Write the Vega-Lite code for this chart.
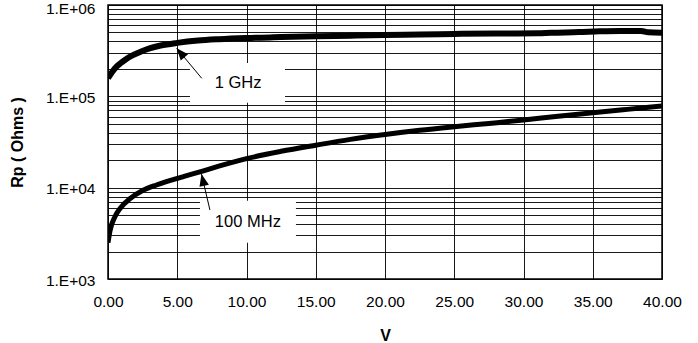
{
  "$schema": "https://vega.github.io/schema/vega-lite/v6.json",
  "width": 554,
  "height": 274,
  "autosize": {"type": "none"},
  "padding": {"left": 108, "top": 5, "right": 36, "bottom": 64},
  "config": {
    "font": "Liberation Sans",
    "view": {"stroke": "#000", "strokeWidth": 1.5},
    "axis": {
      "domain": false,
      "ticks": false,
      "tickSize": 0,
      "gridColor": "#000",
      "gridWidth": 1,
      "gridOpacity": 0.9,
      "labelColor": "#000",
      "labelFont": "Liberation Sans",
      "labelFontSize": 15.5,
      "titleFont": "Liberation Sans",
      "titleFontSize": 16,
      "titleFontWeight": "bold",
      "titleColor": "#000"
    }
  },
  "datasets": {
    "curves": [
      {"series": "1 GHz", "V": 0, "Rp": 158000},
      {"series": "1 GHz", "V": 0.3, "Rp": 185000},
      {"series": "1 GHz", "V": 0.6, "Rp": 210000},
      {"series": "1 GHz", "V": 0.9, "Rp": 230000},
      {"series": "1 GHz", "V": 1.3, "Rp": 255000},
      {"series": "1 GHz", "V": 1.8, "Rp": 282000},
      {"series": "1 GHz", "V": 2.4, "Rp": 310000},
      {"series": "1 GHz", "V": 3.0, "Rp": 335000},
      {"series": "1 GHz", "V": 3.8, "Rp": 360000},
      {"series": "1 GHz", "V": 5, "Rp": 385000},
      {"series": "1 GHz", "V": 6.5, "Rp": 408000},
      {"series": "1 GHz", "V": 8, "Rp": 422000},
      {"series": "1 GHz", "V": 10, "Rp": 435000},
      {"series": "1 GHz", "V": 12.5, "Rp": 445000},
      {"series": "1 GHz", "V": 15, "Rp": 455000},
      {"series": "1 GHz", "V": 17.5, "Rp": 462000},
      {"series": "1 GHz", "V": 20, "Rp": 470000},
      {"series": "1 GHz", "V": 22.5, "Rp": 476000},
      {"series": "1 GHz", "V": 25, "Rp": 482000},
      {"series": "1 GHz", "V": 28, "Rp": 488000},
      {"series": "1 GHz", "V": 31, "Rp": 490000},
      {"series": "1 GHz", "V": 32, "Rp": 497000},
      {"series": "1 GHz", "V": 34, "Rp": 505000},
      {"series": "1 GHz", "V": 35.5, "Rp": 515000},
      {"series": "1 GHz", "V": 37, "Rp": 520000},
      {"series": "1 GHz", "V": 38.5, "Rp": 520000},
      {"series": "1 GHz", "V": 39, "Rp": 502000},
      {"series": "1 GHz", "V": 40, "Rp": 498000},
      {"series": "100 MHz", "V": 0, "Rp": 2500},
      {"series": "100 MHz", "V": 0.15, "Rp": 3400},
      {"series": "100 MHz", "V": 0.5, "Rp": 4800},
      {"series": "100 MHz", "V": 0.9, "Rp": 6000},
      {"series": "100 MHz", "V": 1.6, "Rp": 7600},
      {"series": "100 MHz", "V": 2.5, "Rp": 9300},
      {"series": "100 MHz", "V": 3.5, "Rp": 10700},
      {"series": "100 MHz", "V": 4.5, "Rp": 12000},
      {"series": "100 MHz", "V": 5.5, "Rp": 13300},
      {"series": "100 MHz", "V": 6.7, "Rp": 15000},
      {"series": "100 MHz", "V": 8, "Rp": 17200},
      {"series": "100 MHz", "V": 10, "Rp": 20800},
      {"series": "100 MHz", "V": 12.5, "Rp": 25000},
      {"series": "100 MHz", "V": 15, "Rp": 29200},
      {"series": "100 MHz", "V": 17.5, "Rp": 33800},
      {"series": "100 MHz", "V": 20, "Rp": 38200},
      {"series": "100 MHz", "V": 22.5, "Rp": 42500},
      {"series": "100 MHz", "V": 25, "Rp": 46500},
      {"series": "100 MHz", "V": 27.5, "Rp": 50500},
      {"series": "100 MHz", "V": 30, "Rp": 55000},
      {"series": "100 MHz", "V": 32.5, "Rp": 60500},
      {"series": "100 MHz", "V": 35, "Rp": 66000},
      {"series": "100 MHz", "V": 37.5, "Rp": 72000},
      {"series": "100 MHz", "V": 40, "Rp": 78500}
    ],
    "notes": [
      {"label": "1 GHz", "tx": 9.39, "ty": 140000, "tailV": 6.77, "tailR": 157500, "tipV": 4.96, "tipR": 336000, "boxV1": 5.92, "boxV2": 12.78, "boxR1": 232000, "boxR2": 85000},
      {"label": "100 MHz", "tx": 10.1, "ty": 4200, "tailV": 7.36, "tailR": 5690, "tipV": 6.75, "tipR": 14100, "boxV1": 6.64, "boxV2": 13.57, "boxR1": 7200, "boxR2": 2500}
    ]
  },
  "layer": [
    {
      "data": {"name": "notes"},
      "mark": {"type": "rect", "fill": "#fff", "stroke": null},
      "encoding": {
        "x": {"field": "boxV1", "type": "quantitative",
          "scale": {"domain": [0, 40], "nice": false, "zero": false},
          "axis": {"title": "V", "values": [0, 5, 10, 15, 20, 25, 30, 35, 40], "format": ".2f", "labelPadding": 15, "labelFlush": false, "titleY": 56, "titleBaseline": "middle"}},
        "x2": {"field": "boxV2"},
        "y": {"field": "boxR1", "type": "quantitative",
          "scale": {"type": "log", "domain": [1000, 1000000], "nice": false},
          "axis": {"title": "Rp ( Ohms )", "values": [1000, 2000, 3000, 4000, 5000, 6000, 7000, 8000, 9000, 10000, 20000, 30000, 40000, 50000, 60000, 70000, 80000, 90000, 100000, 200000, 300000, 400000, 500000, 600000, 700000, 800000, 900000, 1000000],
            "labelExpr": "abs(log(datum.value)/LN10 - round(log(datum.value)/LN10)) < 0.001 ? '1.E+0' + round(log(datum.value)/LN10) : ''",
            "labelOverlap": false, "labelPadding": 13, "labelBaseline": "middle",
            "labelOffset": {"condition": {"test": "datum.value >= 999999", "value": 3.5}, "value": 1},
            "titleX": -91, "titleY": 137, "titleAngle": -90, "titleBaseline": "middle", "titleAlign": "center"}},
        "y2": {"field": "boxR2"}
      }
    },
    {
      "data": {"name": "curves"},
      "transform": [{"filter": "datum.series === '1 GHz'"}],
      "mark": {"type": "line", "color": "#000", "strokeWidth": 6, "interpolate": "monotone", "clip": true},
      "encoding": {
        "x": {"field": "V", "type": "quantitative"},
        "y": {"field": "Rp", "type": "quantitative"}
      }
    },
    {
      "data": {"name": "curves"},
      "transform": [{"filter": "datum.series === '100 MHz'"}],
      "mark": {"type": "line", "color": "#000", "strokeWidth": 5, "interpolate": "monotone", "clip": true},
      "encoding": {
        "x": {"field": "V", "type": "quantitative"},
        "y": {"field": "Rp", "type": "quantitative"}
      }
    },
    {
      "data": {"name": "notes"},
      "mark": {"type": "rule", "color": "#000", "strokeWidth": 1},
      "encoding": {
        "x": {"field": "tailV", "type": "quantitative"},
        "y": {"field": "tailR", "type": "quantitative"},
        "x2": {"field": "tipV"},
        "y2": {"field": "tipR"}
      }
    },
    {
      "data": {"name": "notes"},
      "transform": [{"filter": "datum.label === '1 GHz'"}],
      "mark": {"type": "point", "shape": "M0,0L-0.4,1L0.4,1Z", "filled": true, "color": "#000", "opacity": 1, "size": 576, "angle": 320, "strokeWidth": 0},
      "encoding": {
        "x": {"field": "tipV", "type": "quantitative"},
        "y": {"field": "tipR", "type": "quantitative"}
      }
    },
    {
      "data": {"name": "notes"},
      "transform": [{"filter": "datum.label === '100 MHz'"}],
      "mark": {"type": "point", "shape": "M0,0L-0.4,1L0.4,1Z", "filled": true, "color": "#000", "opacity": 1, "size": 576, "angle": 347, "strokeWidth": 0},
      "encoding": {
        "x": {"field": "tipV", "type": "quantitative"},
        "y": {"field": "tipR", "type": "quantitative"}
      }
    },
    {
      "data": {"name": "notes"},
      "mark": {"type": "text", "font": "Liberation Sans", "fontSize": 16.5, "color": "#000", "align": "center", "baseline": "middle"},
      "encoding": {
        "x": {"field": "tx", "type": "quantitative"},
        "y": {"field": "ty", "type": "quantitative"},
        "text": {"field": "label"}
      }
    }
  ]
}
